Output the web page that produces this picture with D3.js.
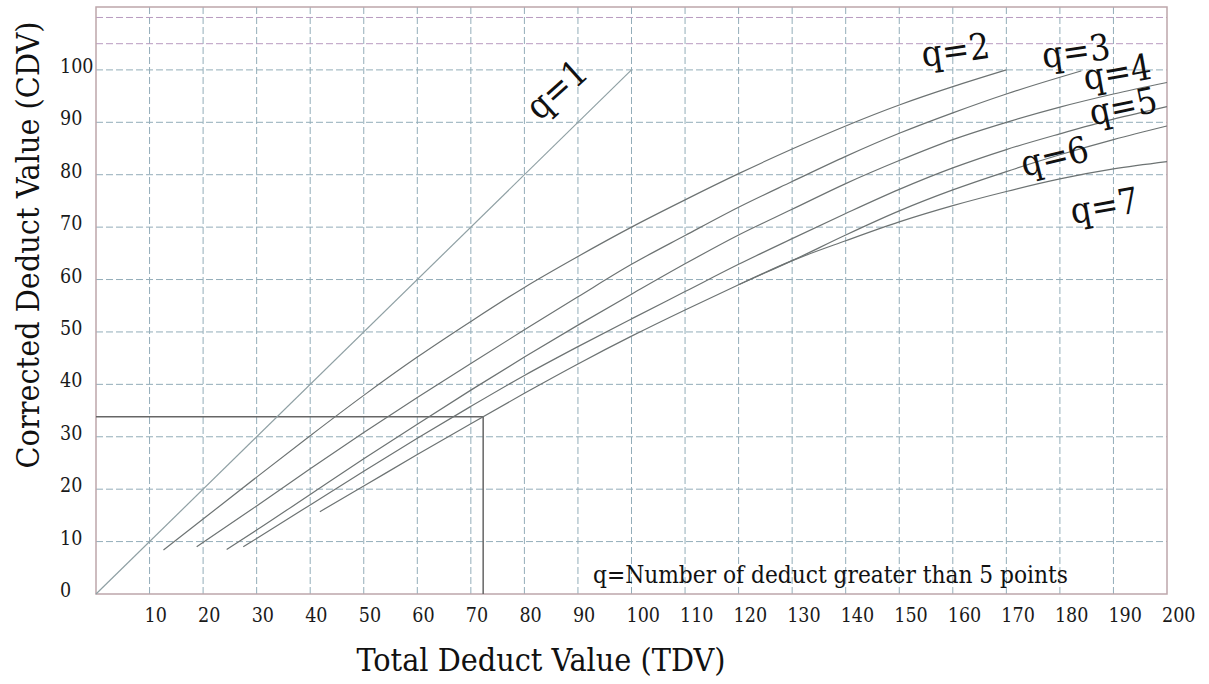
<!DOCTYPE html>
<html>
<head>
<meta charset="utf-8">
<script src="https://cdn.jsdelivr.net/npm/d3@7"></script>
<style>
    body { margin: 0; background: #fff; }
</style>
</head>
<body>
<div id="plot"></div>
<script>
// values (TDV on x, CDV on y)
const q1Tdv = [0, 100];
const q1Cdv = [0, 100];

const q2Tdv = [12.6, 20, 30, 40, 50, 60, 70, 80, 90, 100, 110, 120, 130, 140, 150, 160, 170];
const q2Cdv = [8.4, 14.3, 22.3, 30.2, 37.9, 45.2, 52, 58.5, 64.4, 70, 75.2, 80.2, 84.9, 89.3, 93.3, 96.8, 100];

const q3Tdv = [18.8, 30, 40, 50, 60, 70, 80, 90, 100, 110, 120, 130, 140, 150, 160, 170, 180, 184];
const q3Cdv = [9, 16.8, 23.9, 30.8, 37.5, 44, 50.4, 56.7, 62.9, 68.4, 73.8, 78.7, 83.5, 87.9, 91.8, 95.4, 98.6, 99.8];

const q4Tdv = [24.4, 30, 40, 50, 60, 70, 80, 90, 100, 110, 120, 130, 140, 150, 160, 170, 180, 190, 200];
const q4Cdv = [8.5, 12.2, 19, 25.8, 32.4, 38.9, 45.2, 51.3, 57.2, 63, 68.5, 73.4, 78.3, 82.7, 86.7, 90, 92.9, 95.4, 97.6];

const q5Tdv = [27.5, 30, 40, 50, 60, 70, 80, 90, 100, 110, 120, 130, 140, 150, 160, 170, 180, 190, 200];
const q5Cdv = [9, 10.6, 17, 23.4, 29.7, 35.8, 41.7, 47.2, 52.5, 57.7, 62.9, 67.8, 72.6, 77.2, 81.3, 84.8, 87.8, 90.6, 93];

const q6Tdv = [41.8, 50, 60, 70, 80, 90, 100, 110, 120, 130, 140, 150, 160, 170, 180, 190, 200];
const q6Cdv = [15.7, 20.6, 26.6, 32.5, 38.3, 43.9, 49.2, 54.2, 59, 63.6, 68.5, 73.1, 77.1, 80.6, 83.8, 86.7, 89.3];

// q=7 follows q=6 and splits off near TDV 130
const q7Tdv = [120, 130, 140, 150, 160, 170, 180, 190, 200];
const q7Cdv = [59, 63.6, 67.4, 71, 74.1, 76.8, 79.2, 81.1, 82.5];

const curveNames = ['q=1', 'q=2', 'q=3', 'q=4', 'q=5', 'q=6', 'q=7'];
const curveTdv = [q1Tdv, q2Tdv, q3Tdv, q4Tdv, q5Tdv, q6Tdv, q7Tdv];
const curveCdv = [q1Cdv, q2Cdv, q3Cdv, q4Cdv, q5Cdv, q6Cdv, q7Cdv];

// where the q labels sit (data units) and their tilt
const labelTdv = [86, 160.5, 183, 190.7, 191.8, 179, 188.3];
const labelCdv = [96.3, 103.8, 103.6, 99.6, 93.1, 83.5, 74.1];
const labelAngle = [-42, -8, -8, -10, -12, -14, -10];

// worked example: TDV 72 -> CDV 34
const exampleTdv = 72.3;
const exampleCdv = 33.8;

const xTicks = d3.range(10, 201, 10);
const yTicks = d3.range(0, 101, 10);
const yExtraLines = [105, 110];

const noteText = 'q=Number of deduct greater than 5 points';

const margin = { top: 7, right: 42, bottom: 90, left: 96 },
      width = 1209 - margin.left - margin.right,
      height = 684 - margin.top - margin.bottom;

const svg = d3.select('#plot').append('svg')
    .attr('width', 1209)
    .attr('height', 684)
    .attr('font-family', "'DejaVu Serif Condensed', 'DejaVu Serif', serif")
    .attr('font-stretch', 'condensed');

const g = svg.append('g')
    .attr('transform', 'translate(' + margin.left + ',' + margin.top + ')');

const x = d3.scaleLinear().domain([0, 200]).range([0, width]);
const y = d3.scaleLinear().domain([0, 112]).range([height, 0]);

// grid
g.append('g').selectAll('line').data(xTicks.filter(d => d < 200)).enter().append('line')
    .attr('x1', d => x(d)).attr('x2', d => x(d))
    .attr('y1', 0).attr('y2', height)
    .attr('stroke', '#93adb9').attr('stroke-width', 1)
    .attr('stroke-dasharray', '7,3');

g.append('g').selectAll('line').data(yTicks.filter(d => d > 0)).enter().append('line')
    .attr('x1', 0).attr('x2', width)
    .attr('y1', d => y(d)).attr('y2', d => y(d))
    .attr('stroke', '#93adb9').attr('stroke-width', 1)
    .attr('stroke-dasharray', '7,3');

g.append('g').selectAll('line').data(yExtraLines).enter().append('line')
    .attr('x1', 0).attr('x2', width)
    .attr('y1', d => y(d)).attr('y2', d => y(d))
    .attr('stroke', '#b99cc0').attr('stroke-width', 1)
    .attr('stroke-dasharray', '7,3');

// frame
g.append('rect')
    .attr('x', 0).attr('y', 0)
    .attr('width', width).attr('height', height)
    .attr('fill', 'none')
    .attr('stroke', '#bda6ab').attr('stroke-width', 1.5);

// tick labels
g.append('g').selectAll('text').data(xTicks).enter().append('text')
    .attr('x', d => x(d) - 5)
    .attr('y', height + 28)
    .attr('font-size', 19.5)
    .attr('fill', '#1a1a1a')
    .text(d => d);

g.append('g').selectAll('text').data(yTicks).enter().append('text')
    .attr('x', -36)
    .attr('y', d => y(d) + 3)
    .attr('font-size', 19.5)
    .attr('fill', '#1a1a1a')
    .text(d => d);

// worked example lines
g.append('path')
    .attr('d', d3.line()([[x(0), y(exampleCdv)], [x(exampleTdv), y(exampleCdv)], [x(exampleTdv), y(0)]]))
    .attr('fill', 'none')
    .attr('stroke', '#666').attr('stroke-width', 1.5);

// curves
const line = d3.line()
    .x(d => x(d[0]))
    .y(d => y(d[1]))
    .curve(d3.curveMonotoneX);

curveNames.forEach(function (name, i) {
    const pts = curveTdv[i].map((t, j) => [t, curveCdv[i][j]]);
    g.append('path')
        .datum(pts)
        .attr('d', line)
        .attr('fill', 'none')
        .attr('stroke', i === 0 ? '#8fa0a4' : '#6d7373')
        .attr('stroke-width', 1.2);

    g.append('text')
        .attr('transform', 'translate(' + x(labelTdv[i]) + ',' + y(labelCdv[i]) + ') rotate(' + labelAngle[i] + ')')
        .attr('text-anchor', 'middle')
        .attr('dominant-baseline', 'central')
        .attr('font-size', 36)
        .attr('fill', '#111')
        .text(name);
});

// note
g.append('text')
    .attr('x', 497)
    .attr('y', 576)
    .attr('font-size', 24.2)
    .attr('fill', '#111')
    .text(noteText);

// axis titles
svg.append('text')
    .attr('x', 541)
    .attr('y', 671)
    .attr('text-anchor', 'middle')
    .attr('font-size', 32)
    .attr('fill', '#111')
    .text('Total Deduct Value (TDV)');

svg.append('text')
    .attr('transform', 'translate(39,245) rotate(-90)')
    .attr('text-anchor', 'middle')
    .attr('font-size', 32)
    .attr('fill', '#111')
    .text('Corrected Deduct Value (CDV)');
</script>
</body>
</html>
